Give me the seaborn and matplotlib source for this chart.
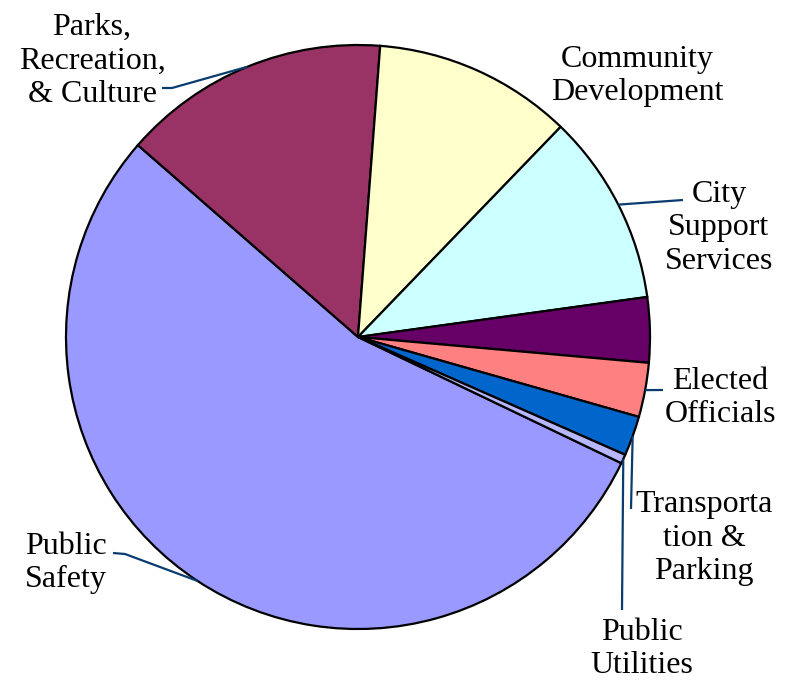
import matplotlib
matplotlib.use("Agg")
import matplotlib.pyplot as plt
import seaborn as sns
import numpy as np

# ---- data (percent of total) ----
categories = ["Public Safety", "Parks, Recreation, & Culture", "Community Development",
              "City Support Services", "", "Elected Officials",
              "Transportation & Parking", "Public Utilities"]
label_texts = ["Public\nSafety", "Parks,\nRecreation,\n& Culture", "Community\nDevelopment",
               "City\nSupport\nServices", "", "Elected\nOfficials",
               "Transporta\ntion &\nParking", "Public\nUtilities"]
values = [54.3, 14.8, 11.0, 10.6, 3.6, 3.0, 2.2, 0.5]
colors = ["#9999FF", "#993366", "#FFFFCC", "#CCFFFF", "#660066", "#FF8080", "#0066CC", "#B8B8FF"]

sns.set_theme(style="white")
plt.rcParams['font.family'] = ['Liberation Serif', 'DejaVu Serif']

W, H = 792, 680
fig = plt.figure(figsize=(W / 100, H / 100), dpi=100)
ax = fig.add_axes([0, 0, 1, 1])

cx, cy, R = 358, H - 337, 292
wedges, _ = ax.pie(values, colors=sns.color_palette(colors), startangle=-25.6,
                   counterclock=False, center=(cx, cy), radius=R,
                   wedgeprops=dict(edgecolor='black', linewidth=1.6),
                   frame=True)
ax.set_xlim(0, W)
ax.set_ylim(0, H)
ax.set_aspect('equal')
ax.axis('off')

# layout: label centre (px, top-down) and leader path points (px, top-down)
layout = {
    0: dict(text=(66, 563), path=[(125, 554), (113, 553)]),
    1: dict(text=(92, 61), path=[(172, 88), (162, 88)]),
    2: dict(text=(637, 76), path=None),
    3: dict(text=(719, 228), path=[(683, 200)]),
    5: dict(text=(720, 398), path=[(663, 390)]),
    6: dict(text=(704, 538), path=[(631, 509)]),
    7: dict(text=(642, 649), path=[(622, 610)]),
}
leader_color = "#0B3C70"
for i, w in enumerate(wedges):
    if i not in layout:
        continue
    lay = layout[i]
    tx, ty = lay['text']
    ax.text(tx, H - ty, label_texts[i], ha='center', va='center', fontsize=23,
            linespacing=1.22, color='black')
    if lay['path']:
        mid = np.deg2rad((w.theta1 + w.theta2) / 2)
        ex, ey = cx + R * np.cos(mid), cy + R * np.sin(mid)
        xs = [ex] + [p[0] for p in lay['path']]
        ys = [ey] + [H - p[1] for p in lay['path']]
        ax.plot(xs, ys, color=leader_color, linewidth=1.6, solid_capstyle='butt')

fig.savefig("out.png", dpi=100, facecolor='white')
